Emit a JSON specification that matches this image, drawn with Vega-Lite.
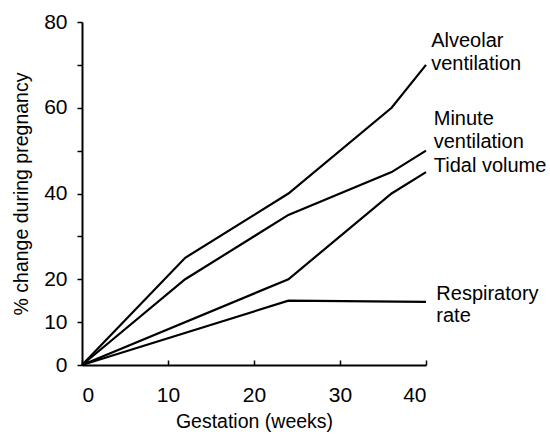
{
  "$schema": "https://vega.github.io/schema/vega-lite/v6.json",
  "width": 344,
  "height": 343,
  "autosize": "none",
  "padding": {"left": 82, "top": 22, "right": 124, "bottom": 71},
  "background": "white",
  "config": {
    "view": {"stroke": null},
    "font": "Liberation Sans",
    "axis": {
      "domainColor": "black",
      "domainWidth": 2,
      "tickColor": "black",
      "tickWidth": 1.5,
      "grid": false,
      "labelFont": "Liberation Sans",
      "labelFontSize": 21,
      "labelColor": "black",
      "titleFont": "Liberation Sans",
      "titleFontSize": 19.5,
      "titleFontWeight": "normal",
      "titleColor": "black"
    }
  },
  "datasets": {
    "series": [
      {"series": "Alveolar ventilation", "week": 0, "pct": 0},
      {"series": "Alveolar ventilation", "week": 12, "pct": 25},
      {"series": "Alveolar ventilation", "week": 24, "pct": 40},
      {"series": "Alveolar ventilation", "week": 36, "pct": 60},
      {"series": "Alveolar ventilation", "week": 40, "pct": 70},
      {"series": "Minute ventilation", "week": 0, "pct": 0},
      {"series": "Minute ventilation", "week": 12, "pct": 20},
      {"series": "Minute ventilation", "week": 24, "pct": 35},
      {"series": "Minute ventilation", "week": 36, "pct": 45},
      {"series": "Minute ventilation", "week": 40, "pct": 50},
      {"series": "Tidal volume", "week": 0, "pct": 0},
      {"series": "Tidal volume", "week": 24, "pct": 20},
      {"series": "Tidal volume", "week": 36, "pct": 40},
      {"series": "Tidal volume", "week": 40, "pct": 45},
      {"series": "Respiratory rate", "week": 0, "pct": 0},
      {"series": "Respiratory rate", "week": 24, "pct": 15},
      {"series": "Respiratory rate", "week": 40, "pct": 14.7}
    ],
    "labels": [
      {"text": "Alveolar", "week": 40.6, "pct": 74.2},
      {"text": "ventilation", "week": 40.6, "pct": 68.8},
      {"text": "Minute", "week": 40.9, "pct": 56.0},
      {"text": "ventilation", "week": 40.9, "pct": 50.6},
      {"text": "Tidal volume", "week": 40.9, "pct": 45.0},
      {"text": "Respiratory", "week": 41.2, "pct": 15.2},
      {"text": "rate", "week": 41.2, "pct": 10.0}
    ]
  },
  "layer": [
    {
      "data": {"name": "series"},
      "mark": {"type": "line", "color": "black", "strokeWidth": 2.2, "clip": false},
      "encoding": {
        "x": {
          "field": "week",
          "type": "quantitative",
          "scale": {"domain": [0, 40], "nice": false},
          "axis": {
            "values": [0, 10, 20, 30, 40],
            "tickSize": -5,
            "labelPadding": 24,
            "title": "Gestation (weeks)",
            "titlePadding": 7
          }
        },
        "y": {
          "field": "pct",
          "type": "quantitative",
          "scale": {"domain": [0, 80], "nice": false},
          "axis": {
            "values": [0, 10, 20, 30, 40, 50, 60, 70, 80],
            "labelExpr": "(datum.value == 30 || datum.value == 50 || datum.value == 70) ? '' : datum.label",
            "tickSize": 5,
            "labelPadding": 10,
            "title": "% change during pregnancy",
            "titlePadding": 12
          }
        },
        "detail": {"field": "series", "type": "nominal"}
      }
    },
    {
      "data": {"name": "labels"},
      "mark": {"type": "text", "align": "left", "baseline": "alphabetic", "fontSize": 20, "color": "black", "font": "Liberation Sans", "clip": false},
      "encoding": {
        "x": {"field": "week", "type": "quantitative"},
        "y": {"field": "pct", "type": "quantitative"},
        "text": {"field": "text", "type": "nominal"}
      }
    }
  ]
}
